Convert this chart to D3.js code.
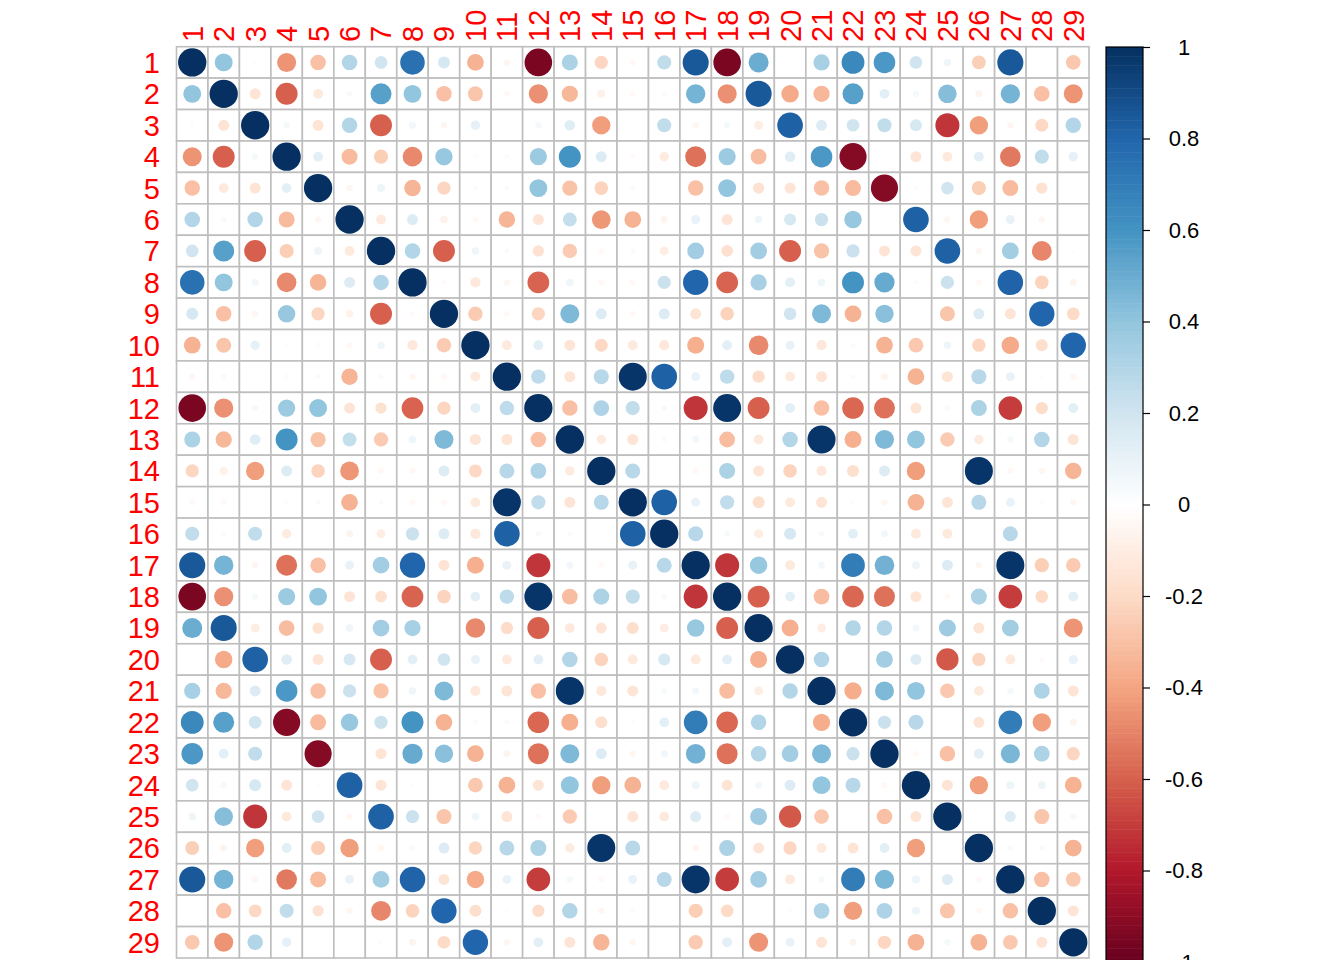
<!DOCTYPE html>
<html>
<head>
<meta charset="utf-8">
<script src="https://cdn.jsdelivr.net/npm/d3@7"></script>
<style>
  body { margin: 0; background: #fff; }
  svg { display: block; font-family: "Liberation Sans", Arial, Helvetica, sans-serif; }
</style>
</head>
<body>
<svg id="corrViz" width="1344" height="960"></svg>
<script>
// variable names, 1..29
const labels = d3.range(1, 30).map(String);

// upper triangle of the correlation matrix, row i holds columns i+1..29
const upper = [
  [0.4, 0.02, -0.45, -0.3, 0.3, 0.2, 0.75, 0.18, -0.35, -0.05, -0.95, 0.32, -0.22, -0.04, 0.25, 0.85, -0.95, 0.5, 0.01, 0.33, 0.65, 0.58, 0.2, 0.07, -0.24, 0.85, 0.01, -0.27],
  [-0.15, -0.6, -0.12, 0.04, 0.55, 0.4, -0.3, -0.28, -0.04, -0.46, -0.33, -0.08, -0.04, -0.03, 0.47, -0.46, 0.85, -0.38, -0.33, 0.55, 0.12, 0.05, 0.43, -0.06, 0.47, -0.3, -0.45],
  [0.05, -0.15, 0.3, -0.6, 0.06, -0.05, 0.11, 0.01, 0.05, 0.14, -0.42, 0.0, 0.25, -0.05, 0.05, -0.1, 0.82, 0.15, 0.2, 0.25, 0.18, -0.72, -0.42, -0.05, -0.21, 0.3],
  [0.12, -0.32, -0.25, -0.48, 0.38, -0.02, -0.03, 0.37, 0.6, 0.15, -0.03, -0.11, -0.55, 0.37, -0.31, 0.14, 0.58, -0.92, 0.0, -0.15, -0.12, 0.12, -0.53, 0.25, 0.11],
  [-0.05, 0.08, -0.34, -0.22, -0.03, 0.03, 0.4, -0.29, -0.23, 0.03, 0.01, -0.3, 0.4, -0.16, -0.15, -0.3, -0.32, -0.92, -0.02, 0.2, -0.25, -0.32, -0.16, 0.0],
  [-0.12, 0.15, -0.07, -0.04, -0.34, -0.15, 0.24, -0.44, -0.35, -0.06, 0.1, -0.15, 0.07, 0.18, 0.22, 0.38, 0.01, 0.82, -0.05, -0.42, 0.1, -0.05, -0.01],
  [0.3, -0.6, 0.07, 0.03, -0.16, -0.26, -0.04, 0.03, -0.1, 0.35, -0.17, 0.35, -0.6, -0.29, 0.22, -0.15, -0.15, 0.82, -0.05, 0.35, -0.49, -0.02],
  [-0.03, -0.13, -0.05, -0.59, 0.07, -0.04, -0.04, 0.22, 0.8, -0.59, 0.33, 0.12, 0.07, 0.6, 0.51, 0.02, 0.22, -0.04, 0.81, -0.23, -0.06],
  [-0.26, -0.04, -0.22, 0.45, 0.15, -0.04, 0.15, -0.15, -0.23, 0.0, 0.2, 0.45, -0.35, 0.42, 0.0, -0.28, 0.15, -0.15, 0.8, -0.2],
  [-0.12, 0.12, -0.15, -0.21, -0.12, -0.13, -0.36, 0.12, -0.48, 0.1, -0.13, -0.03, -0.35, -0.27, 0.07, -0.22, -0.38, -0.18, 0.8],
  [0.26, -0.15, 0.28, 0.98, 0.82, 0.1, 0.26, -0.19, -0.12, -0.15, -0.03, -0.06, -0.35, -0.15, 0.28, 0.1, -0.02, -0.05],
  [-0.3, 0.31, 0.25, 0.04, -0.72, 0.98, -0.6, 0.12, -0.3, -0.58, -0.55, -0.15, -0.04, 0.32, -0.7, -0.19, 0.12],
  [-0.11, -0.15, 0.03, 0.06, -0.31, -0.12, 0.3, 0.98, -0.36, 0.45, 0.4, -0.26, -0.11, 0.05, 0.3, -0.15],
  [0.28, 0.0, -0.04, 0.32, -0.15, -0.23, -0.13, -0.18, 0.15, -0.42, 0.0, 0.98, -0.04, -0.05, -0.34],
  [0.82, 0.1, 0.25, -0.18, -0.12, -0.15, -0.02, -0.05, -0.35, -0.15, 0.28, 0.1, -0.03, -0.05],
  [0.28, 0.04, -0.1, 0.18, 0.04, 0.12, 0.06, -0.12, -0.12, 0.0, 0.28, 0.0, -0.01],
  [-0.72, 0.38, -0.12, 0.06, 0.7, 0.48, 0.08, 0.15, -0.05, 0.98, -0.25, -0.26],
  [-0.6, 0.12, -0.31, -0.58, -0.55, -0.15, -0.04, 0.32, -0.7, -0.2, 0.12],
  [-0.36, -0.1, 0.3, 0.3, 0.06, 0.36, -0.15, 0.35, -0.01, -0.45],
  [0.3, 0.01, 0.35, 0.15, -0.62, -0.22, -0.12, -0.03, 0.1],
  [-0.37, 0.45, 0.4, -0.27, -0.12, 0.05, 0.31, -0.15],
  [0.22, 0.28, 0.0, -0.15, 0.7, -0.42, -0.06],
  [-0.04, -0.3, 0.12, 0.46, 0.31, -0.22],
  [-0.15, -0.42, 0.08, 0.08, -0.35],
  [0.01, 0.15, -0.28, 0.05],
  [-0.04, -0.04, -0.35],
  [-0.3, -0.27],
  [-0.15]
];

// colour legend ticks
const legendTicks = [1, 0.8, 0.6, 0.4, 0.2, 0, -0.2, -0.4, -0.6, -0.8, -1];
const legendTickLabels = ["1", "0.8", "0.6", "0.4", "0.2", "0", "-0.2", "-0.4", "-0.6", "-0.8", "-1"];

// RdBu palette stops as corrplot uses them
const paletteStops = [-1, -0.8, -0.6, -0.4, -0.2, 0, 0.2, 0.4, 0.6, 0.8, 1];
const paletteColours = ["#67001F", "#B2182B", "#D6604D", "#F4A582", "#FDDBC7", "#FFFFFF",
                        "#D1E5F0", "#92C5DE", "#4393C3", "#2166AC", "#053061"];

run();

function run () {
  const svg = d3.select("#corrViz");
  const cells = buildCells();
  drawMatrix(svg, cells);
  drawLegend(svg);
}

function buildCells () {
  const n = labels.length;
  const cells = [];
  for (let i = 0; i < n; i++) {
    for (let j = 0; j < n; j++) {
      let v;
      if (i === j) v = 1;
      else if (j > i) v = upper[i][j - i - 1];
      else v = upper[j][i - j - 1];
      cells.push({ row: labels[i], col: labels[j], value: v });
    }
  }
  return cells;
}

function colourScale () {
  return d3.scaleLinear()
    .domain(paletteStops)
    .range(paletteColours)
    .interpolate(d3.interpolateRgb);
}

function drawMatrix (svg, cells) {
  const x = d3.scaleBand().domain(labels).range([176.5, 1089]);
  const y = d3.scaleBand().domain(labels).range([46.7, 958]);
  const bw = x.bandwidth();
  const radius = d3.scaleSqrt().domain([0, 1]).range([0, 0.45 * bw]);
  const colour = colourScale();

  // grid
  svg.append("g")
    .selectAll("rect")
    .data(cells)
    .join("rect")
    .attr("x", d => x(d.col))
    .attr("y", d => y(d.row))
    .attr("width", bw)
    .attr("height", y.bandwidth())
    .attr("fill", "#fff")
    .attr("stroke", "#BEBEBE")
    .attr("stroke-width", 1.6);

  // circles
  svg.append("g")
    .selectAll("circle")
    .data(cells.filter(d => d.value !== 0))
    .join("circle")
    .attr("cx", d => x(d.col) + bw / 2)
    .attr("cy", d => y(d.row) + y.bandwidth() / 2)
    .attr("r", d => radius(Math.abs(d.value)))
    .attr("fill", d => colour(d.value));

  // row labels
  svg.append("g")
    .selectAll("text")
    .data(labels)
    .join("text")
    .attr("x", 160)
    .attr("y", d => y(d) + y.bandwidth() / 2)
    .attr("dy", "0.36em")
    .attr("text-anchor", "end")
    .attr("fill", "#FF0000")
    .style("font-size", "29px")
    .text(d => d);

  // column labels, rotated
  svg.append("g")
    .selectAll("text")
    .data(labels)
    .join("text")
    .attr("transform", d => `translate(${x(d) + bw / 2},42) rotate(-90)`)
    .attr("dy", "0.36em")
    .attr("text-anchor", "start")
    .attr("fill", "#FF0000")
    .style("font-size", "29px")
    .text(d => d);
}

function drawLegend (svg) {
  const colour = colourScale();
  const left = 1106, right = 1143;
  const ly = d3.scaleLinear().domain([-1, 1]).range([962, 47]);

  // colour steps
  const steps = d3.range(200).map(k => -1 + (k + 0.5) * 2 / 200);
  svg.append("g")
    .selectAll("rect")
    .data(steps)
    .join("rect")
    .attr("x", left)
    .attr("width", right - left)
    .attr("y", d => ly(d + 0.005))
    .attr("height", ly(-0.005) - ly(0.005) + 0.5)
    .attr("fill", d => colour(d));

  svg.append("rect")
    .attr("x", left)
    .attr("y", ly(1))
    .attr("width", right - left)
    .attr("height", ly(-1) - ly(1))
    .attr("fill", "none")
    .attr("stroke", "#000")
    .attr("stroke-width", 1.2);

  const axis = d3.axisRight(ly)
    .tickValues(legendTicks)
    .tickFormat((d, i) => legendTickLabels[i])
    .tickSize(7)
    .tickSizeOuter(0);

  const g = svg.append("g")
    .attr("transform", `translate(${right},0)`)
    .call(axis);
  g.select(".domain").remove();
  g.selectAll(".tick line").attr("stroke", "#000").attr("stroke-width", 1.2);
  g.selectAll(".tick text")
    .attr("x", 41)
    .attr("text-anchor", "middle")
    .attr("fill", "#000")
    .style("font-family", "\"Liberation Sans\", Arial, sans-serif")
    .style("font-size", "22px");
}
</script>
</body>
</html>
